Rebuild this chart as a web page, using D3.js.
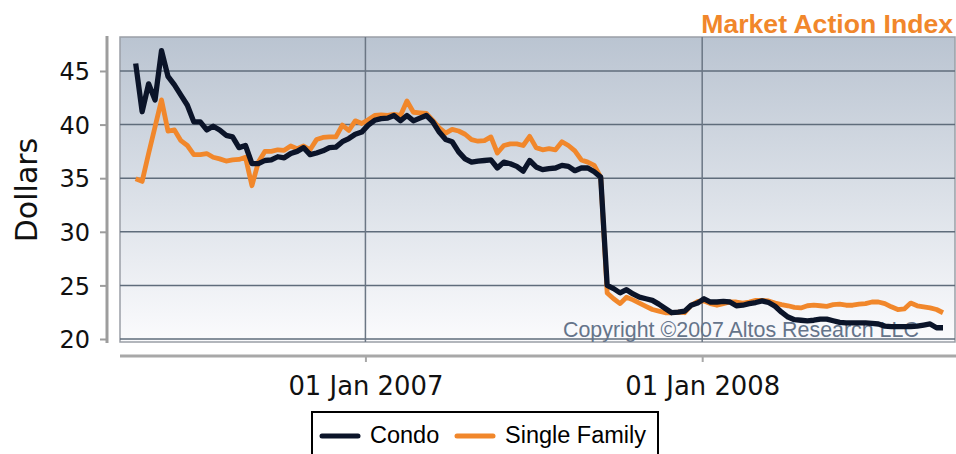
<!DOCTYPE html>
<html>
<head>
<meta charset="utf-8">
<script src="https://cdn.jsdelivr.net/npm/d3@7"></script>
<style>
  html, body { margin: 0; padding: 0; background: #fff; }
  svg { display: block; }
</style>
</head>
<body>
<svg id="chart" width="956" height="454"></svg>
<script>
// weekly Market Action Index
const firstWeek = "2006-04-27";
const condo = [
  45.7, 41.2, 43.8, 42.3, 46.9, 44.5, 43.7, 42.75, 41.8, 40.25, 40.25, 39.5, 39.85, 39.5,
  39.0, 38.85, 37.85, 38.05, 36.35, 36.35, 36.65, 36.7, 37.0, 36.9, 37.3, 37.5, 37.85,
  37.2, 37.35, 37.55, 37.85, 37.9, 38.4, 38.7, 39.1, 39.3, 39.95, 40.4, 40.55, 40.6,
  40.85, 40.35, 40.85, 40.35, 40.6, 40.85, 40.25, 39.3, 38.6, 38.4, 37.45, 36.8, 36.5,
  36.6, 36.65, 36.7, 35.95, 36.5, 36.35, 36.1, 35.65, 36.65, 36.05, 35.8, 35.9, 35.95,
  36.2, 36.1, 35.7, 35.95, 35.95, 35.6, 35.1,
  25.0, 24.7, 24.3, 24.6, 24.2, 23.9, 23.75, 23.6, 23.25, 22.85, 22.45, 22.5, 22.6, 23.15,
  23.35, 23.75, 23.45, 23.45, 23.5, 23.45, 23.1, 23.15, 23.3, 23.4, 23.55, 23.4, 23.05,
  22.5, 22.05, 21.8, 21.75, 21.7, 21.75, 21.85, 21.85, 21.7, 21.55, 21.5, 21.5, 21.5,
  21.5, 21.45, 21.4, 21.2, 21.15, 21.15, 21.15, 21.15, 21.2, 21.3, 21.4, 21.05, 21.05
];
const singleFamily = [
  34.95, 34.7, 37.3, 39.8, 42.3, 39.4, 39.5, 38.5, 38.05, 37.2, 37.2, 37.3, 36.95, 36.8,
  36.6, 36.7, 36.75, 36.95, 34.3, 36.5, 37.5, 37.5, 37.65, 37.6, 38.0, 37.75, 38.0,
  37.65, 38.6, 38.8, 38.85, 38.85, 39.95, 39.45, 40.35, 40.1, 40.45, 40.85, 40.9, 40.85,
  40.95, 40.85, 42.2, 41.15, 41.1, 41.05, 40.4, 39.7, 39.2, 39.55, 39.4, 39.1, 38.6,
  38.45, 38.5, 38.85, 37.35, 38.05, 38.2, 38.2, 38.05, 38.9, 37.85, 37.65, 37.75, 37.65,
  38.4, 38.05, 37.55, 36.7, 36.5, 36.2, 35.1,
  24.3, 23.75, 23.3, 23.9, 23.65, 23.35, 23.05, 22.75, 22.6, 22.45, 22.45, 22.5, 22.45,
  23.15, 23.5, 23.55, 23.3, 23.15, 23.3, 23.45, 23.45, 23.35, 23.45, 23.6, 23.6, 23.55,
  23.35, 23.2, 23.1, 22.95, 22.9, 23.1, 23.15, 23.1, 23.05, 23.2, 23.25, 23.15, 23.15,
  23.25, 23.3, 23.45, 23.45, 23.3, 23.0, 22.75, 22.8, 23.35, 23.1, 23.0, 22.9, 22.75, 22.45
];
const yTicks = [20, 25, 30, 35, 40, 45];
const xTicks = ["2007-01-01", "2008-01-01"];
const seriesNames = ["Condo", "Single Family"];

const colors = { condo: "#0b1429", single: "#f1872b" };
const tickFont = "DejaVu Sans, Verdana, sans-serif";
const textFont = "Liberation Sans, Arial, Helvetica, sans-serif";

const plot = { left: 120, right: 955, top: 37, bottom: 342 };

const svg = d3.select("#chart");

const parse = d3.utcParse("%Y-%m-%d");
const start = parse(firstWeek);
const weeks = condo.map((d, i) => d3.utcDay.offset(start, 7 * i));

const x = d3.scaleUtc()
  .domain([parse("2006-04-10"), parse("2008-10-01")])
  .range([plot.left, plot.right]);

const y = d3.scaleLinear()
  .domain([19.72, 48.17])
  .range([plot.bottom, plot.top]);

// background gradient
const grad = svg.append("defs")
  .append("linearGradient")
  .attr("id", "bg")
  .attr("x1", 0).attr("y1", 0)
  .attr("x2", 0).attr("y2", 1);
grad.append("stop").attr("offset", "0%").attr("stop-color", "#bac4d1");
grad.append("stop").attr("offset", "55%").attr("stop-color", "#dde2e9");
grad.append("stop").attr("offset", "100%").attr("stop-color", "#fbfbfd");

svg.append("rect")
  .attr("x", plot.left)
  .attr("y", plot.top)
  .attr("width", plot.right - plot.left)
  .attr("height", plot.bottom - plot.top)
  .attr("fill", "url(#bg)")
  .attr("stroke", "#9a9fa6")
  .attr("stroke-width", 1.5);

// grid lines
svg.append("g")
  .selectAll("line")
  .data(yTicks)
  .join("line")
  .attr("x1", plot.left)
  .attr("x2", plot.right)
  .attr("y1", d => y(d))
  .attr("y2", d => y(d))
  .attr("stroke", "#5f6c7b")
  .attr("stroke-width", 1.5);

svg.append("g")
  .selectAll("line")
  .data(xTicks.map(parse))
  .join("line")
  .attr("x1", d => x(d))
  .attr("x2", d => x(d))
  .attr("y1", plot.top)
  .attr("y2", plot.bottom)
  .attr("stroke", "#6b7684")
  .attr("stroke-width", 1.5);

// y axis, set off to the left of the plot
const yAxis = svg.append("g")
  .attr("transform", "translate(107,0)")
  .call(d3.axisLeft(y).tickValues(yTicks).tickSize(7).tickPadding(10));
yAxis.select(".domain")
  .attr("d", `M0,${plot.top - 1}V${plot.bottom + 1}`)
  .attr("stroke", "#9d9d9d")
  .attr("stroke-width", 3);
yAxis.selectAll(".tick line").attr("stroke", "#9d9d9d").attr("stroke-width", 2);
yAxis.selectAll(".tick text")
  .attr("fill", "#111")
  .attr("font-family", tickFont)
  .attr("font-size", 24)
  .attr("dy", "0.36em");

// x axis below the plot
const xAxis = svg.append("g")
  .attr("transform", "translate(0,356)")
  .call(d3.axisBottom(x)
    .tickValues(xTicks.map(parse))
    .tickFormat(d3.utcFormat("%d %b %Y"))
    .tickSize(6)
    .tickPadding(14));
xAxis.select(".domain")
  .attr("d", `M${plot.left},0H956`)
  .attr("stroke", "#a8a8a8")
  .attr("stroke-width", 3);
xAxis.selectAll(".tick line").attr("stroke", "#a8a8a8").attr("stroke-width", 2);
xAxis.selectAll(".tick text")
  .attr("fill", "#111")
  .attr("font-family", tickFont)
  .attr("font-size", 26)
  .attr("dy", "0.74em")
  .attr("textLength", 155)
  .attr("lengthAdjust", "spacingAndGlyphs");

svg.append("text")
  .attr("transform", "translate(37,190) rotate(-90)")
  .attr("text-anchor", "middle")
  .attr("font-family", tickFont)
  .attr("font-size", 30)
  .attr("fill", "#111")
  .text("Dollars");

// copyright sits under the lines
svg.append("text")
  .attr("x", 563)
  .attr("y", 337)
  .attr("font-family", textFont)
  .attr("font-size", 21.4)
  .attr("fill", "#65748a")
  .text("Copyright \u00a92007 Altos Research LLC");

const line = vals => d3.line()
  .x((d, i) => x(weeks[i]))
  .y(d => y(d))(vals);

svg.append("path")
  .attr("d", line(singleFamily))
  .attr("fill", "none")
  .attr("stroke", colors.single)
  .attr("stroke-width", 4.8)
  .attr("stroke-linejoin", "round");

svg.append("path")
  .attr("d", line(condo))
  .attr("fill", "none")
  .attr("stroke", colors.condo)
  .attr("stroke-width", 5.3)
  .attr("stroke-linejoin", "round");

// title
svg.append("text")
  .attr("x", 953)
  .attr("y", 33)
  .attr("text-anchor", "end")
  .attr("font-family", textFont)
  .attr("font-weight", "bold")
  .attr("font-size", 26.6)
  .attr("fill", "#f1872b")
  .text("Market Action Index");

// legend
const legend = svg.append("g");
legend.append("rect")
  .attr("x", 312)
  .attr("y", 412)
  .attr("width", 346)
  .attr("height", 60)
  .attr("fill", "#fff")
  .attr("stroke", "#000")
  .attr("stroke-width", 2);

const items = [
  { name: seriesNames[0], color: colors.condo, x: 320, tx: 370 },
  { name: seriesNames[1], color: colors.single, x: 455, tx: 505 }
];
const item = legend.selectAll("g.item")
  .data(items)
  .join("g")
  .attr("class", "item");
item.append("line")
  .attr("x1", d => d.x + 2)
  .attr("x2", d => d.x + 38)
  .attr("y1", 436)
  .attr("y2", 436)
  .attr("stroke", d => d.color)
  .attr("stroke-width", 5)
  .attr("stroke-linecap", "round");
item.append("text")
  .attr("x", d => d.tx)
  .attr("y", 443)
  .attr("font-family", textFont)
  .attr("font-size", 23.5)
  .attr("fill", "#000")
  .text(d => d.name);
</script>
</body>
</html>
